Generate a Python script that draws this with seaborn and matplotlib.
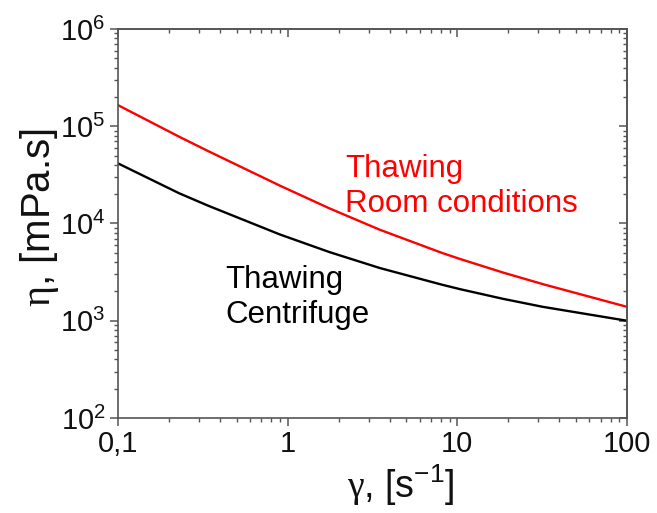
import numpy as np
import pandas as pd
import matplotlib
matplotlib.use("Agg")
import matplotlib.pyplot as plt
import seaborn as sns
from matplotlib.ticker import (LogLocator, FixedLocator, FixedFormatter,
                               NullFormatter, LogFormatterSciNotation)

# Shear rate (1/s) and apparent viscosity (mPa.s) of the thawed samples
shear_rate = [0.1, 0.23, 0.34, 0.9, 1.77, 3.5, 8.1, 10.4, 18.6, 31.9, 100]
eta_room = [1.648e5, 7.78e4, 5.55e4, 2.45e4, 1.426e4, 8.61e3, 4.99e3, 4.31e3, 3.13e3, 2.38e3, 1.39e3]
eta_centrifuge = [4.15e4, 2.04e4, 1.524e4, 7.71e3, 5.07e3, 3.48e3, 2.35e3, 2.11e3, 1.68e3, 1.39e3, 1.0e3]
series_names = ["Room conditions", "Centrifuge"]
series_colors = ["#ff0000", "#000000"]
x_tick_values = [0.1, 1, 10, 100]
x_tick_labels = ["0,1", "1", "10", "100"]

sns.set_theme(style="ticks")
plt.rcParams["font.family"] = ["Liberation Sans", "DejaVu Sans"]
plt.rcParams["mathtext.fontset"] = "custom"
plt.rcParams["mathtext.rm"] = "Liberation Sans"
plt.rcParams["mathtext.it"] = "Liberation Serif"
plt.rcParams["mathtext.bf"] = "Liberation Sans:bold"

df = pd.DataFrame({
    "rate": shear_rate * 2,
    "eta": eta_room + eta_centrifuge,
    "series": [series_names[0]] * len(shear_rate) + [series_names[1]] * len(shear_rate),
})

fig = plt.figure(figsize=(6.57, 5.13), dpi=100)
ax = fig.add_axes([0.1796, 0.1852, 0.7747, 0.7583])

sns.lineplot(data=df, x="rate", y="eta", hue="series",
             palette=dict(zip(series_names, series_colors)),
             linewidth=1.7, legend=False, ax=ax, sort=False, estimator=None)

ax.set_xscale("log")
ax.set_yscale("log")
ax.set_xlim(0.1, 100)
ax.set_ylim(1e2, 1e6)
ax.set_xlabel("")
ax.set_ylabel("")

axis_color = "#555555"
minor_subs = np.arange(2, 10)

ax.xaxis.set_major_locator(FixedLocator(x_tick_values))
ax.xaxis.set_major_formatter(FixedFormatter(x_tick_labels))
ax.xaxis.set_minor_locator(LogLocator(base=10, subs=minor_subs, numticks=20))
ax.xaxis.set_minor_formatter(NullFormatter())
ax.yaxis.set_major_locator(LogLocator(base=10, numticks=10))
ax.yaxis.set_major_formatter(LogFormatterSciNotation())
ax.yaxis.set_minor_locator(LogLocator(base=10, subs=minor_subs, numticks=20))
ax.yaxis.set_minor_formatter(NullFormatter())

ax.tick_params(which="major", direction="out", length=6, width=1.1,
               color=axis_color, labelsize=21, labelcolor="#111111", pad=3)
ax.tick_params(which="minor", direction="out", length=3, width=1.0, color=axis_color)
for sp in ax.spines.values():
    sp.set_color(axis_color)
    sp.set_linewidth(1.2)

# Inward ticks on the top and right frame
top = ax.secondary_xaxis("top")
top.xaxis.set_major_locator(FixedLocator(x_tick_values))
top.xaxis.set_minor_locator(LogLocator(base=10, subs=minor_subs, numticks=20))
top.xaxis.set_minor_formatter(NullFormatter())
top.tick_params(which="major", direction="in", length=6, width=1.1,
                color=axis_color, labeltop=False)
top.tick_params(which="minor", direction="in", length=3, width=1.0, color=axis_color)
top.spines["top"].set_color(axis_color)
top.spines["top"].set_linewidth(1.2)

right = ax.secondary_yaxis("right")
right.yaxis.set_major_locator(LogLocator(base=10, numticks=10))
right.yaxis.set_minor_locator(LogLocator(base=10, subs=minor_subs, numticks=20))
right.yaxis.set_minor_formatter(NullFormatter())
right.tick_params(which="major", direction="in", length=6, width=1.1,
                  color=axis_color, labelright=False)
right.tick_params(which="minor", direction="in", length=3, width=1.0, color=axis_color)
right.spines["right"].set_color(axis_color)
right.spines["right"].set_linewidth(1.2)

ax.text(0.446, 0.5296, "Thawing\nRoom conditions", transform=ax.transAxes,
        color=series_colors[0], fontsize=22.5, ha="left", va="baseline")
ax.text(0.210, 0.244, "Thawing\nCentrifuge", transform=ax.transAxes,
        color=series_colors[1], fontsize=22.5, ha="left", va="baseline")

fig.text(401 / 657, 1 - 498 / 513, r"$\gamma$, [$\mathregular{s^{-1}}$]",
         fontsize=27, ha="center", va="baseline", color="#111111")
fig.text(50 / 657, 1 - 218 / 513, r"$\eta$, [mPa.s]", fontsize=29,
         rotation=90, rotation_mode="anchor", ha="center", va="baseline",
         color="#111111")

fig.savefig("out.png", dpi=100)
